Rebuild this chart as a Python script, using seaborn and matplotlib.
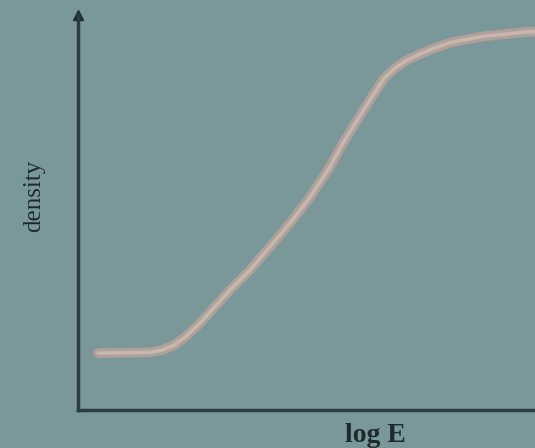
import matplotlib
matplotlib.use("Agg")
import matplotlib.pyplot as plt
import seaborn as sns
import numpy as np
import pandas as pd

# data (arbitrary units)
log_E = [0.44, 1.58, 1.85, 2.10, 2.35, 2.67, 3.33, 3.76, 4.20, 4.64, 5.08, 5.51, 5.80, 6.11, 6.39, 6.54, 6.70, 6.94, 7.16, 7.42, 7.80, 8.14, 8.86, 9.82, 10.0]
density = [1.44, 1.46, 1.52, 1.64, 1.85, 2.20, 3.04, 3.54, 4.13, 4.73, 5.39, 6.15, 6.76, 7.34, 7.85, 8.12, 8.40, 8.66, 8.83, 8.98, 9.16, 9.30, 9.46, 9.57, 9.58]
x_label = "log E"
y_label = "density"

df = pd.DataFrame({"log E": log_E, "density": density})

sns.set_style("white")
bg = "#7a979a"
fig = plt.figure(figsize=(5.35, 4.48), dpi=100, facecolor=bg)
ax = fig.add_axes([78/535, 38/448, 1 - 78/535, (410-15)/448])
ax.set_facecolor(bg)

sns.lineplot(data=df, x="log E", y="density", ax=ax, color="#b0a09b", lw=7,
             solid_capstyle="round", solid_joinstyle="round", sort=False)
sns.lineplot(data=df, x="log E", y="density", ax=ax, color="#c6b8ad", lw=2.5,
             solid_capstyle="round", solid_joinstyle="round", sort=False)

ax.set_xlim(0, 10)
ax.set_ylim(0, 10)
ax.set_xticks([])
ax.set_yticks([])
for s in ["top", "right"]:
    ax.spines[s].set_visible(False)
for s in ["left", "bottom"]:
    ax.spines[s].set_color("#2b3d42")
    ax.spines[s].set_linewidth(2.5)
ax.plot([0], [10], marker="^", color="#1f2d33", markersize=7, clip_on=False)
ax.set_xlabel("")
ax.set_ylabel("")
fig.text(375/535, 0.0, x_label, ha="center", va="bottom",
         family="Liberation Serif", fontsize=20, fontweight="bold", color="#1e2a2e")
fig.text(34/535, 1 - 196/448, y_label, ha="center", va="center", rotation=90,
         family="Liberation Serif", fontsize=18, color="#1e2a2e")

fig.savefig("out.png", dpi=100, facecolor=bg)
